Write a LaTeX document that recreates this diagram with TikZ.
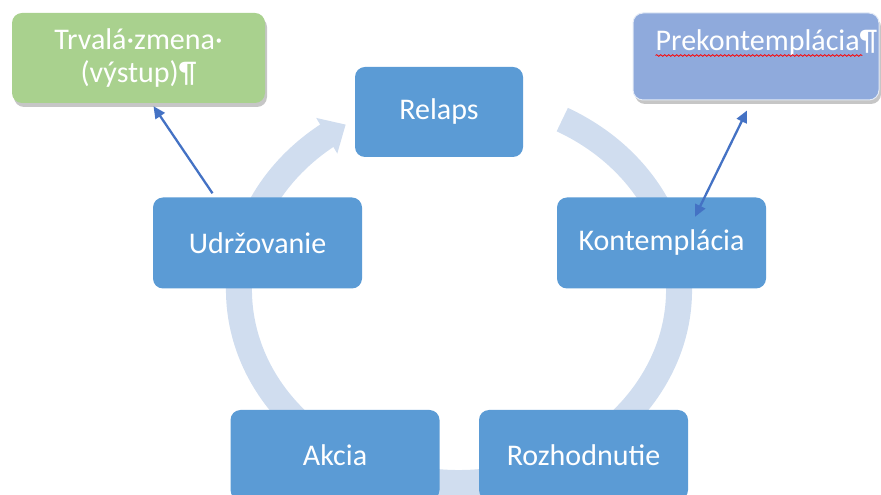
\documentclass[tikz,border=0pt]{standalone}
\usepackage{fontspec}
\setmainfont{Carlito}
\usepackage{tikz}
\usepackage{xcolor}
\usetikzlibrary{arrows.meta,bending,shadows,decorations.pathmorphing}
\definecolor{stagecolor}{HTML}{5b9bd5}
\definecolor{exitcolor}{HTML}{a9d18e}
\definecolor{precolor}{HTML}{8faadc}
\definecolor{ringcolor}{HTML}{d0ddef}
\definecolor{linkcolor}{HTML}{4472c4}

\tikzset{
  stage/.style = {fill = stagecolor, rectangle, rounded corners = 10pt, minimum width = 209pt, minimum height = 91pt, text = white, font = \fontsize{30}{33}\selectfont},
  exitbox/.style = {stage, fill = exitcolor, minimum width = 253pt, minimum height = 90pt, drop shadow = {shadow xshift = 2pt, shadow yshift = -4pt, opacity = 0.45}},
  prebox/.style = {stage, fill = precolor, draw = white!75!precolor, line width = 1pt, minimum width = 246pt, minimum height = 87pt, drop shadow = {shadow xshift = 2pt, shadow yshift = -4pt, opacity = 0.45}},
  boxtext/.style = {text = white, inner sep = 0pt, font = \fontsize{30}{33}\selectfont},
  ring/.style = {draw = ringcolor, line width = 26pt, -{Triangle[length = 22pt, width = 40pt]}},
  link/.style = {draw = linkcolor, line width = 2.3pt, -{Triangle[length = 12pt, width = 11pt]}},
  spell/.style = {draw = red, line width = 0.8pt, decorate, decoration = {snake, segment length = 4pt, amplitude = 0.8pt}}
}

\begin{document}
\begin{tikzpicture}[x = 1pt, y = 1pt]
        \useasboundingbox (0, 0) rectangle (881, 495);

        % Cycle ring behind the stages
        \draw [ring] (459, 205) ++(62:220pt and 193pt) arc [start angle = 62, end angle = -239, x radius = 220pt, y radius = 193pt];

        % Nodes
        \node [stage, minimum width = 168pt, minimum height = 90pt] (relaps) at (439, 383) {Relaps};
        \node [stage] (kontemplacia) at (661.5, 252) {Kontemplácia};
        \node [stage, minimum height = 90pt] (rozhodnutie) at (583.5, 40) {Rozhodnutie};
        \node [stage, minimum height = 90pt] (akcia) at (335, 40) {Akcia};
        \node [stage] (udrzovanie) at (257.5, 252) {Udržovanie};
        \node [exitbox, align = center] (zmena) at (138.5, 437) {Trvalá·zmena·\\(výstup)¶};
        \node [prebox] (pre) at (756, 438.5) {};
        \node [boxtext, anchor = base west] (pretext) at ([xshift = 23pt, yshift = -38pt]pre.north west) {Prekontemplácia¶};

        % Spell check mark
        \draw [spell] ([yshift = -5pt]pretext.base west) -- ([xshift = -15pt, yshift = -5pt]pretext.base east);

        % Draw the links
        \draw [link] ([xshift = -45pt, yshift = 4pt]udrzovanie.north) -- ([xshift = 15pt, yshift = -3pt]zmena.south);
        \draw [link, {Triangle[length = 12pt, width = 11pt]}-{Triangle[length = 12pt, width = 11pt]}] ([xshift = 33.5pt, yshift = -19.5pt]kontemplacia.north) -- ([xshift = -9pt, yshift = -10pt]pre.south);

    \end{tikzpicture}
\end{document}
